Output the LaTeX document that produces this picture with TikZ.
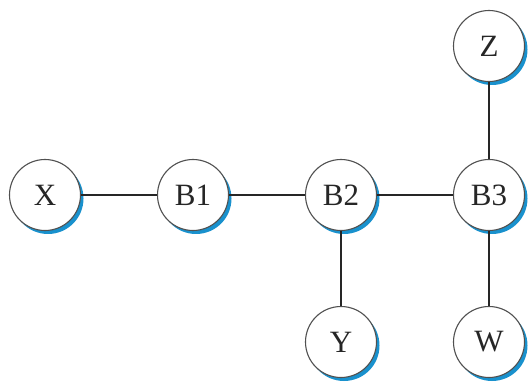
\documentclass[tikz,border=0pt]{standalone}
\usepackage{fontspec}
\setmainfont{Liberation Serif}
\definecolor{shadowblue}{RGB}{25,145,205}
\definecolor{ringgray}{RGB}{80,80,80}
\begin{document}
\begin{tikzpicture}[x=1pt,y=-1pt,
  bus/.style={circle,draw=ringgray,line width=1.1pt,fill=white,minimum size=71pt,inner sep=0pt,
    font=\fontsize{31}{31}\selectfont,text=black!85},
  shade/.style={circle,fill=shadowblue,minimum size=71pt,inner sep=0pt},
  link/.style={line width=1.2pt,draw=black!85}]
\useasboundingbox (0,0) rectangle (528,385);
% shadows
\foreach \px/\py in {45/195,193/195,341/195,489/195,489/46,341/342,489/342}
  \node[shade] at (\px+3,\py+3.5) {};
\node[bus] (X) at (45,195) {X};
\node[bus] (B1) at (193,195) {B1};
\node[bus] (B2) at (341,195) {B2};
\node[bus] (B3) at (489,195) {B3};
\node[bus] (Z) at (489,46) {Z};
\node[bus] (Y) at (341,342) {Y};
\node[bus] (W) at (489,342) {W};
\draw[link] (X) -- (B1);
\draw[link] (B1) -- (B2);
\draw[link] (B2) -- (B3);
\draw[link] (B3) -- (Z);
\draw[link] (B2) -- (Y);
\draw[link] (B3) -- (W);
\end{tikzpicture}
\end{document}
